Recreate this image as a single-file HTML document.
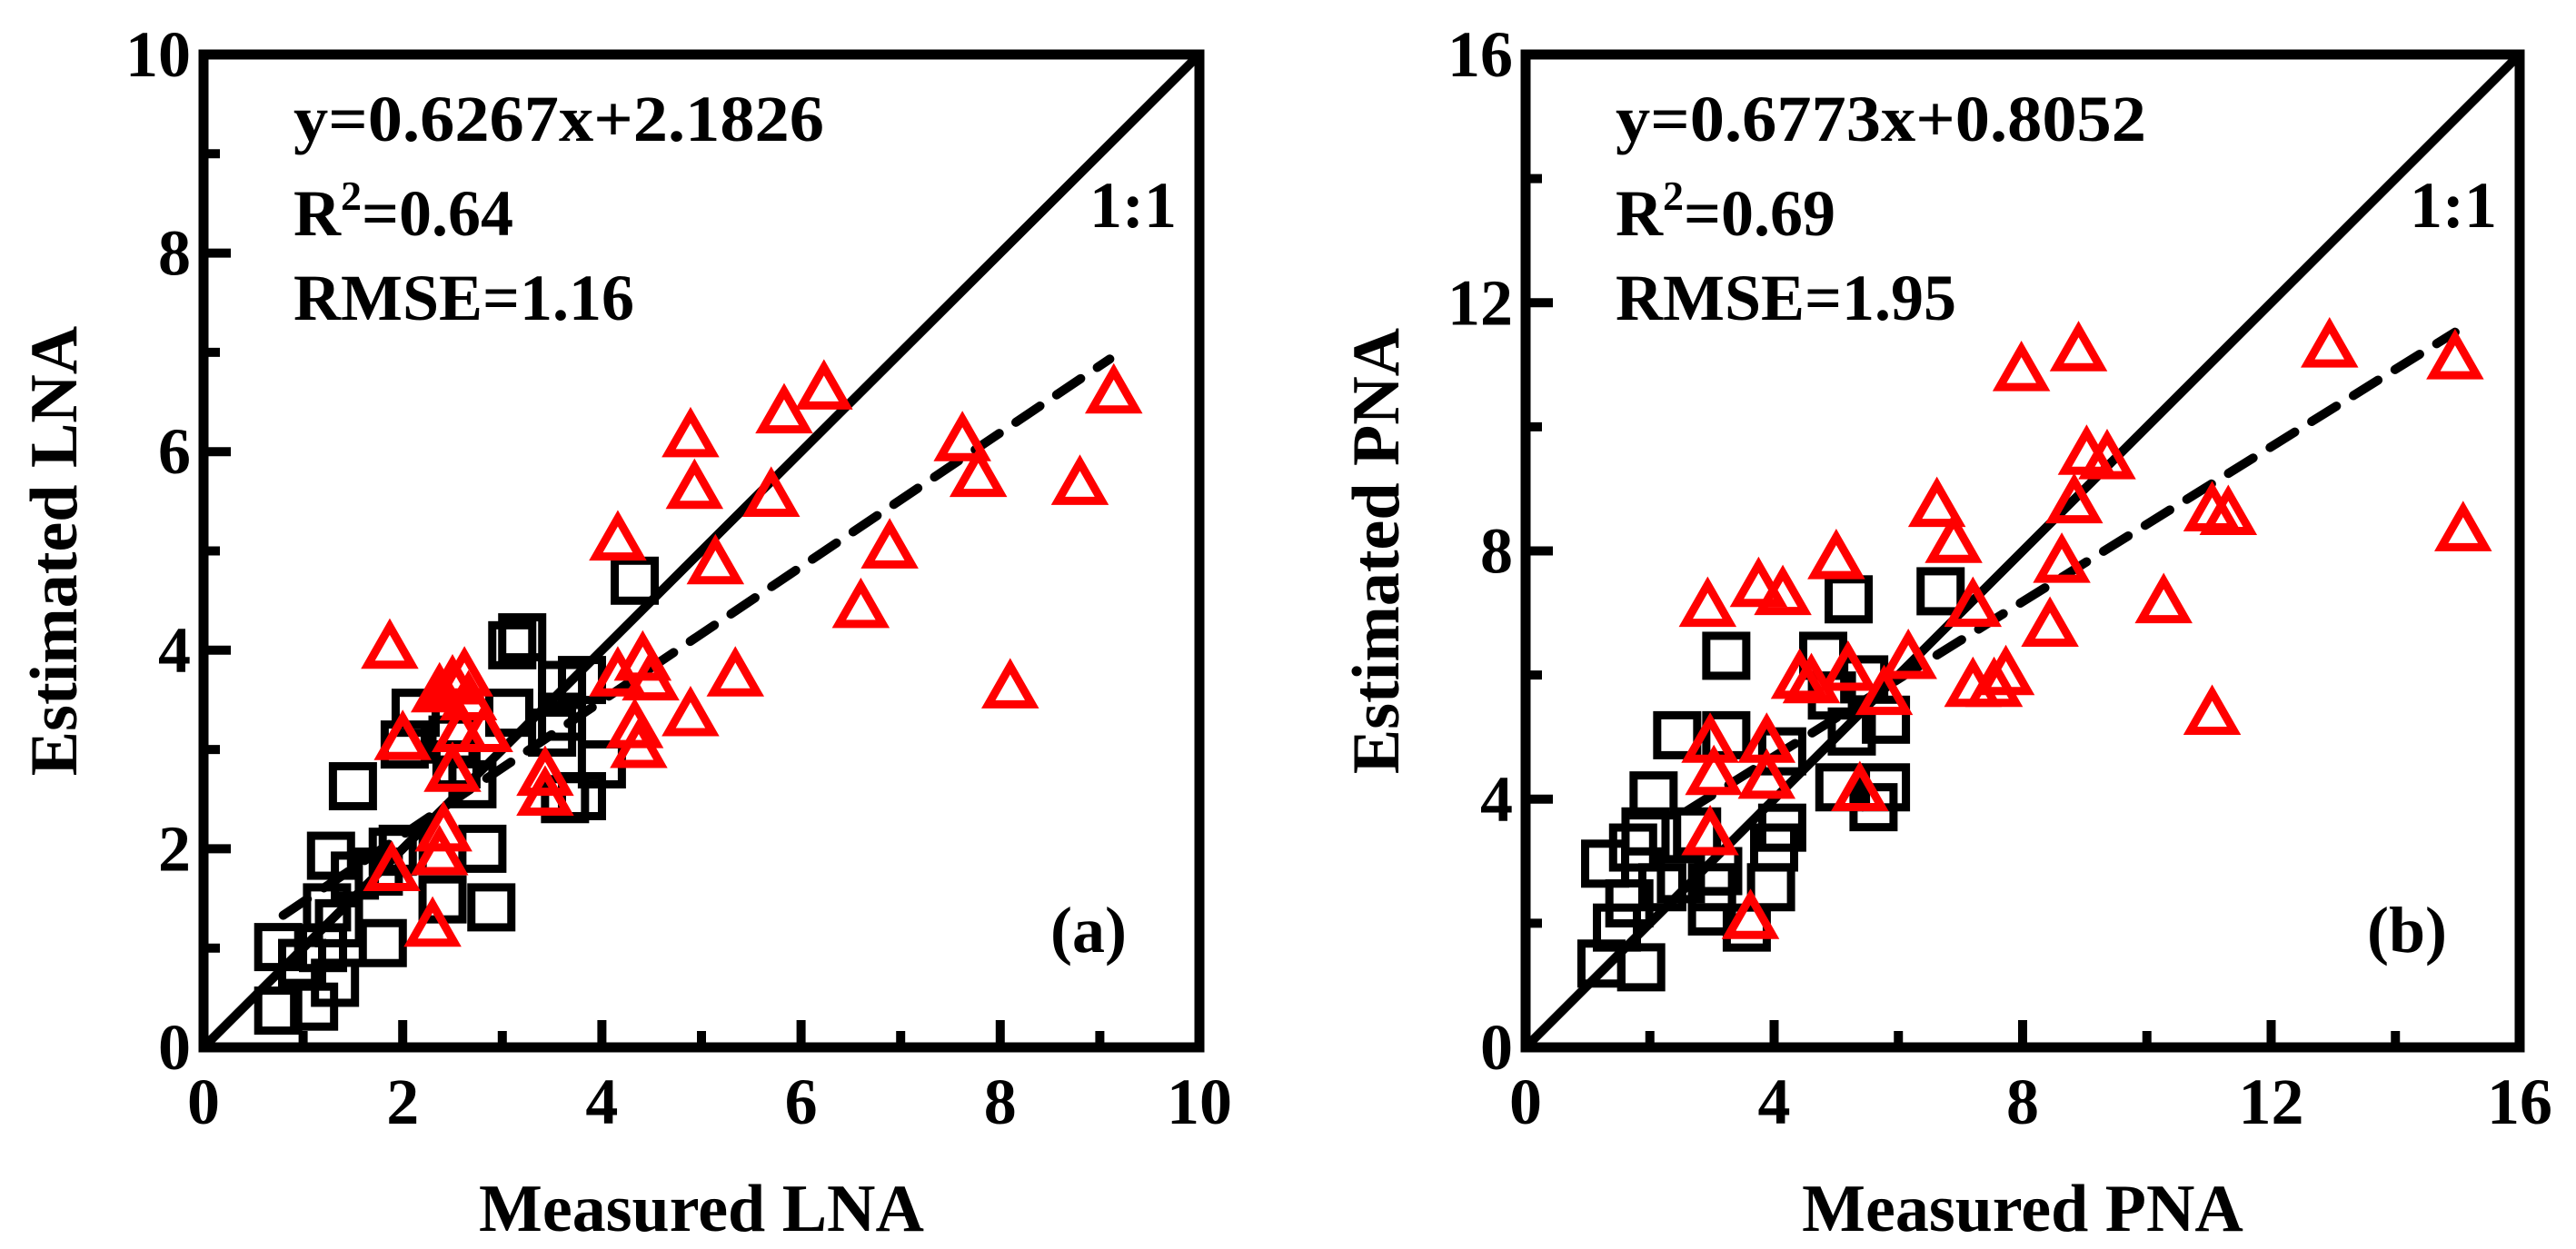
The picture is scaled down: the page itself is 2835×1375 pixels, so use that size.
<!DOCTYPE html>
<html><head><meta charset="utf-8">
<style>
html,body{margin:0;padding:0;background:#fff;}
svg{display:block;font-family:"Liberation Serif",serif;font-weight:bold;}
</style></head>
<body>
<svg id="chart" width="2835" height="1375" viewBox="0 0 2835 1375" xmlns="http://www.w3.org/2000/svg"></svg>
<script>
// ---------- Panel (a) LNA data ----------
const lnaSqX = [0.75,0.75,1.11,1.32,0.99,1.2,1.24,1.28,1.36,1.8,1.52,1.76,1.5,2.0,2.02,2.13,2.4,2.8,2.89,2.7,3.07,3.2,3.1,3.6,3.8,3.6,3.63,3.8,4.0,4.33,2.54,2.5,3.5,1.9];
const lnaSqY = [1.01,0.37,0.41,0.65,0.85,1.0,1.41,1.93,1.25,1.05,1.73,1.77,2.63,2.0,3.05,3.37,1.49,2.0,1.41,2.65,3.37,4.13,4.05,3.65,3.7,3.33,2.5,2.53,2.85,4.7,2.85,3.1,3.17,1.97];
const lnaTrX = [1.87,2.0,1.89,2.3,2.41,2.37,2.37,2.5,2.62,2.5,2.58,2.82,2.66,3.43,3.43,4.16,4.16,4.41,4.49,4.33,4.37,4.89,4.93,4.89,5.14,5.34,5.7,5.83,6.23,6.6,6.89,7.62,7.78,8.1,8.8,9.14];
const lnaTrY = [4.01,3.09,1.77,1.21,2.17,1.93,3.57,3.65,3.73,2.77,3.17,3.17,3.49,2.73,2.53,5.1,3.73,3.89,3.69,3.21,3.01,6.14,5.62,3.33,4.86,3.73,5.54,6.38,6.62,4.42,5.02,6.1,5.74,3.61,5.66,6.58];
const lnaTicks = [0,2,4,6,8,10];
const lnaFitLine = [0.8, 9.1]; // x range of drawn dashed fit
const lnaFitCoef = [0.675, 0.79]; // drawn slope, intercept

// ---------- Panel (b) PNA data ----------
const pnaSqX = [1.28,1.22,1.86,1.47,1.67,1.73,1.93,2.06,2.2,2.44,2.5,2.76,3.0,3.0,3.1,3.23,3.23,3.56,3.95,4.0,4.13,4.13,4.79,4.93,5.2,5.25,5.45,5.6,5.8,5.8,6.68,5.05];
const pnaSqY = [2.96,1.35,1.29,1.93,2.32,3.22,3.48,4.06,2.58,5.03,2.71,3.48,2.19,2.58,2.84,6.31,5.03,1.93,2.58,3.22,3.54,4.77,6.31,5.67,7.22,5.09,5.93,3.87,4.19,5.28,7.35,4.19];
const pnaTrX = [2.93,2.97,3.03,2.97,3.62,3.75,4.14,3.88,3.88,4.41,4.6,5.0,5.19,5.38,5.77,6.16,6.62,6.89,7.2,7.2,7.54,7.73,7.98,8.9,8.44,8.63,8.83,9.03,9.36,10.27,11.05,11.05,11.31,12.94,14.96,15.09];
const pnaTrY = [7.09,4.9,4.38,3.41,2.06,7.41,7.28,4.9,4.32,5.93,5.86,7.86,6.06,4.12,5.67,6.25,8.7,8.12,7.09,5.8,5.8,5.99,10.89,11.21,6.77,7.8,8.76,9.54,9.47,7.15,5.35,8.63,8.57,11.27,11.08,8.31];
const pnaTicks = [0,4,8,12,16];
const pnaFitLine = [2.6, 14.96];
const pnaFitCoef = [0.624, 2.19];

const NS = "http://www.w3.org/2000/svg";
const svg = document.getElementById("chart");
function mk(tag, attrs, parent){
  const e = document.createElementNS(NS, tag);
  for (const k in attrs) e.setAttribute(k, attrs[k]);
  (parent||svg).appendChild(e);
  return e;
}

function panel(cfg){
  const g = mk("g", {});
  
  
  const L=cfg.left, R=cfg.right, T=60, B=1153, max=cfg.max;
  const sx = v => L + (R-L)*v/max;
  const sy = v => B - (B-T)*v/max;

  // ticks (inward, left & bottom)
  const step = cfg.ticks[1]-cfg.ticks[0];
  for (let v=step/2; v<max; v+=step/2){
    const major = Math.abs(v/step - Math.round(v/step))<1e-6;
    const len = major?30:18;
    const tx = mk("line",{x1:sx(v),x2:sx(v),y1:B,y2:B-len,stroke:"#000","stroke-width":10},g);
    
    
    const ty = mk("line",{x1:L,x2:L+len,y1:sy(v),y2:sy(v),stroke:"#000","stroke-width":10},g);
    
    
  }
  // tick labels
  cfg.ticks.forEach(v=>{
    const xl = mk("text",{x:sx(v),y:1237,"font-size":72,"text-anchor":"middle"},g);
    xl.textContent = v;
    
    
    const yl = mk("text",{x:L-14,y:sy(v)+24,"font-size":72,"text-anchor":"end"},g);
    yl.textContent = v;
    
    
  });

  // 1:1 line
  const one = mk("line",{x1:sx(0),y1:sy(0),x2:sx(max),y2:sy(max),stroke:"#000","stroke-width":10},g);
  
  
  // fitted dashed line
  const [fx0,fx1] = cfg.fit, [m,b] = cfg.coef;
  const fit = mk("line",{x1:sx(fx0),y1:sy(m*fx0+b),x2:sx(fx1),y2:sy(m*fx1+b),stroke:"#000","stroke-width":10,"stroke-dasharray":"32 22","stroke-linecap":"round"},g);
  
  

  // squares
  cfg.sqX.forEach((x,i)=>{
    const s=44;
    const r = mk("rect",{x:sx(x)-s/2,y:sy(cfg.sqY[i])-s/2,width:s,height:s,fill:"none",stroke:"#000","stroke-width":9},g);
    
    
  });
  // triangles
  cfg.trX.forEach((x,i)=>{
    const cx=sx(x), cy=sy(cfg.trY[i]);
    const p = mk("polygon",{points:`${cx},${cy-25} ${cx+24},${cy+17} ${cx-24},${cy+17}`,fill:"none",stroke:"#ff0000","stroke-width":9,"stroke-linejoin":"miter"},g);
    
    
  });

  // frame
  const fr = mk("rect",{x:L,y:T,width:R-L,height:B-T,fill:"none",stroke:"#000","stroke-width":11},g);
  
  

  // annotations
  const t1 = mk("text",{x:L+99,y:155,"font-size":72,textLength:584,lengthAdjust:"spacingAndGlyphs"},g);
  t1.textContent = cfg.eq;
  
  
  const t2 = mk("text",{x:L+99,y:259,"font-size":72},g);
  t2.innerHTML = 'R<tspan dy="-28" font-size="46">2</tspan><tspan dy="28">=' + cfg.r2 + '</tspan>';
  
  
  const t3 = mk("text",{x:L+99,y:352,"font-size":72},g);
  t3.textContent = "RMSE=" + cfg.rmse;
  
  
  const t4 = mk("text",{x:R-25,y:250,"font-size":72,"text-anchor":"end"},g);
  t4.textContent = "1:1";
  
  
  const t5 = mk("text",{x:R-80,y:1048,"font-size":72,"text-anchor":"end"},g);
  t5.textContent = cfg.tag;
  
  

  // axis titles
  const xt = mk("text",{x:(L+R)/2,y:1355,"font-size":74,"text-anchor":"middle"},g);
  xt.textContent = cfg.xTitle;
  
  
  const yx = L-140, yy=(T+B)/2;
  const yt = mk("text",{x:yx,y:yy,"font-size":74,"text-anchor":"middle",transform:`rotate(-90 ${yx} ${yy})`},g);
  yt.textContent = cfg.yTitle;
  
  
}

panel({name:"panel-a-lna",left:224,right:1320,max:10,ticks:lnaTicks,sqX:lnaSqX,sqY:lnaSqY,trX:lnaTrX,trY:lnaTrY,
  fit:lnaFitLine,coef:lnaFitCoef,eq:"y=0.6267x+2.1826",r2:"0.64",rmse:"1.16",tag:"(a)",xTitle:"Measured LNA",yTitle:"Estimated LNA"});
panel({name:"panel-b-pna",left:1679,right:2773,max:16,ticks:pnaTicks,sqX:pnaSqX,sqY:pnaSqY,trX:pnaTrX,trY:pnaTrY,
  fit:pnaFitLine,coef:pnaFitCoef,eq:"y=0.6773x+0.8052",r2:"0.69",rmse:"1.95",tag:"(b)",xTitle:"Measured PNA",yTitle:"Estimated PNA"});
</script>
</body></html>
